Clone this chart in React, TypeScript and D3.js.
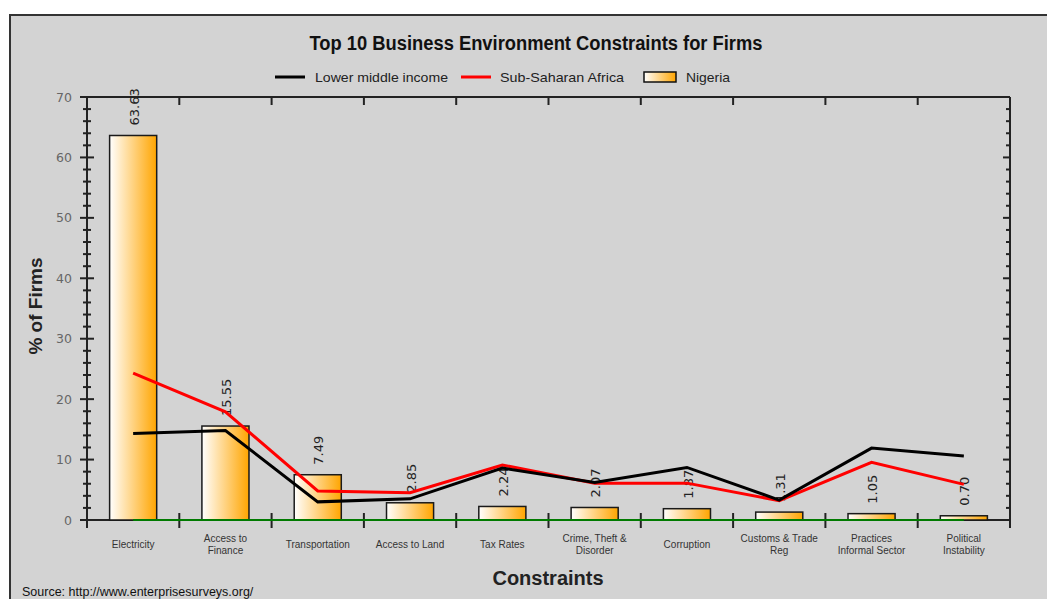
import React from "react";
import * as d3 from "d3";

const categories: string[][] = [
  ["Electricity"],
  ["Access to", "Finance"],
  ["Transportation"],
  ["Access to Land"],
  ["Tax Rates"],
  ["Crime, Theft &", "Disorder"],
  ["Corruption"],
  ["Customs & Trade", "Reg"],
  ["Practices", "Informal Sector"],
  ["Political", "Instability"],
];
const nigeria = [63.63, 15.55, 7.49, 2.85, 2.24, 2.07, 1.87, 1.31, 1.05, 0.7];
const nigeriaLabels = ["63.63", "15.55", "7.49", "2.85", "2.24", "2.07", "1.87", "1.31", "1.05", "0.70"];
const lowerMiddleIncome = [14.3, 14.8, 3.0, 3.5, 8.6, 6.2, 8.7, 3.3, 11.9, 10.6];
const subSaharanAfrica = [24.3, 17.9, 4.8, 4.5, 9.1, 6.1, 6.1, 3.2, 9.55, 5.9];
const baseline = [0, 0, 0, 0, 0, 0, 0, 0, 0, 0];
const yMajorTicks = [0, 10, 20, 30, 40, 50, 60, 70];
const yMinorTicks = [2, 4, 6, 8, 12, 14, 16, 18, 22, 24, 26, 28, 32, 34, 36, 38, 42, 44, 46, 48, 52, 54, 56, 58, 62, 64, 66, 68];

const W = 1047;
const H = 599;
const L = 87, R = 1010, T = 97, B = 520;

export default function App() {
  const x = d3.scaleBand<number>().domain(d3.range(categories.length)).range([L, R]).paddingInner(0).paddingOuter(0);
  const y = d3.scaleLinear().domain([0, 70]).range([B, T]);
  const bw = x.bandwidth() * 0.51;
  const cx = (i: number) => (x(i) as number) + x.bandwidth() / 2;
  const line = d3.line<number>().x((_, i) => cx(i)).y((d) => y(d));
  const boundaries = d3.range(categories.length + 1).map((i) => L + i * x.bandwidth());
  const sans = "'Liberation Sans', Arial, sans-serif";
  const dv = "'DejaVu Sans', Verdana, sans-serif";

  return (
    <svg width={W} height={H} style={{ position: "absolute", left: 0, top: 0 }}>
      <defs>
        <linearGradient id="barGrad" x1="0" x2="1" y1="0" y2="0">
          <stop offset="0%" stopColor="#ffffff" />
          <stop offset="100%" stopColor="#ffa500" />
        </linearGradient>
      </defs>
      <rect x={0} y={0} width={W} height={H} fill="#ffffff" />
      <rect x={10} y={15} width={W + 10} height={H + 10} fill="#d3d3d3" stroke="#333" strokeWidth={2} />

      <text x={536} y={50} textAnchor="middle" fontFamily={sans} fontWeight="bold" fontSize={20} fill="#111" textLength={453} lengthAdjust="spacingAndGlyphs">
        Top 10 Business Environment Constraints for Firms
      </text>

      {/* legend */}
      <g fontFamily={sans} fontSize={13} fill="#222">
        <line x1={275} x2={305} y1={77} y2={77} stroke="#000" strokeWidth={3} />
        <text x={315} y={81.5} textLength={133} lengthAdjust="spacingAndGlyphs">Lower middle income</text>
        <line x1={461} x2={491} y1={77} y2={77} stroke="#ff0000" strokeWidth={3} />
        <text x={500} y={81.5} textLength={124} lengthAdjust="spacingAndGlyphs">Sub-Saharan Africa</text>
        <rect x={644} y={72} width={32} height={10} fill="url(#barGrad)" stroke="#111" strokeWidth={1.5} />
        <text x={686} y={81.5} textLength={44} lengthAdjust="spacingAndGlyphs">Nigeria</text>
      </g>

      {/* axes frame */}
      <g stroke="#222" strokeWidth={2}>
        <line x1={L} x2={R} y1={T} y2={T} />
        <line x1={L} x2={R} y1={B} y2={B} />
        <line x1={L} x2={L} y1={T} y2={B + 8} />
        <line x1={R} x2={R} y1={T} y2={B + 8} />
        {boundaries.slice(1, -1).map((bx, i) => (
          <g key={i}>
            <line x1={bx} x2={bx} y1={B - 7} y2={B + 8} />
            <line x1={bx} x2={bx} y1={T} y2={T + 8} />
          </g>
        ))}
        {yMajorTicks.map((t) => (
          <g key={t}>
            <line x1={L - 7} x2={L + 7} y1={y(t)} y2={y(t)} />
            <line x1={R - 7} x2={R} y1={y(t)} y2={y(t)} />
          </g>
        ))}
        {yMinorTicks.map((t) => (
          <g key={t}>
            <line x1={L - 4} x2={L + 4} y1={y(t)} y2={y(t)} />
            <line x1={R - 4} x2={R} y1={y(t)} y2={y(t)} />
          </g>
        ))}
      </g>

      {/* y tick labels */}
      <g fontFamily={dv} fontSize={12.5} fill="#666" textAnchor="end">
        {yMajorTicks.map((t) => (
          <text key={t} x={72} y={y(t) + 4.5}>{t}</text>
        ))}
      </g>

      <text transform={`translate(42,306) rotate(-90)`} textAnchor="middle" fontFamily={sans} fontWeight="bold" fontSize={19} fill="#222">
        % of Firms
      </text>

      {/* bars */}
      {nigeria.map((v, i) => (
        <rect key={i} x={cx(i) - bw / 2} y={y(v)} width={bw} height={B - y(v)} fill="url(#barGrad)" stroke="#1a1a1a" strokeWidth={1.5} />
      ))}

      {/* value labels */}
      <g fontFamily={dv} fontSize={13} fill="#222">
        {nigeria.map((v, i) => (
          <text key={i} transform={`translate(${cx(i) + 1},${y(v) - 10}) rotate(-90)`} dy="0.35em">
            {nigeriaLabels[i]}
          </text>
        ))}
      </g>

      {/* lines */}
      <path d={line(baseline) || ""} fill="none" stroke="#007a00" strokeWidth={2} />
      <path d={line(subSaharanAfrica) || ""} fill="none" stroke="#ff0000" strokeWidth={3} />
      <path d={line(lowerMiddleIncome) || ""} fill="none" stroke="#000" strokeWidth={3} />

      {/* x labels */}
      <g fontFamily={sans} fontSize={10} fill="#333" textAnchor="middle">
        {categories.map((lines, i) =>
          lines.length === 1 ? (
            <text key={i} x={cx(i)} y={548}>{lines[0]}</text>
          ) : (
            <text key={i} x={cx(i)} y={542}>
              <tspan x={cx(i)}>{lines[0]}</tspan>
              <tspan x={cx(i)} dy={12}>{lines[1]}</tspan>
            </text>
          )
        )}
      </g>

      <text x={548} y={585} textAnchor="middle" fontFamily={sans} fontWeight="bold" fontSize={20} fill="#222">
        Constraints
      </text>

      <text x={22} y={596} fontFamily={sans} fontSize={12.5} fill="#111">
        Source: http://www.enterprisesurveys.org/
      </text>
    </svg>
  );
}
